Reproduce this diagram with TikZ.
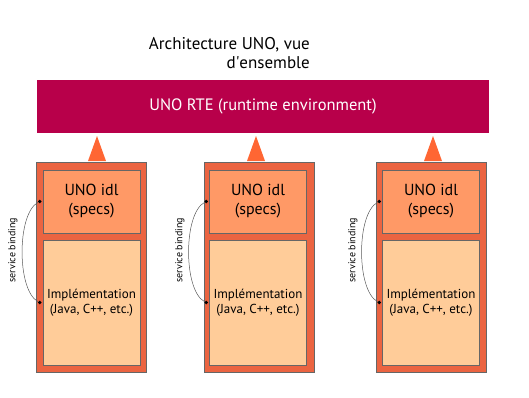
\documentclass[tikz,border=0pt]{standalone}
\usepackage{fontspec}
\setmainfont{PT Sans}
\usetikzlibrary{positioning}

\definecolor{rtered}{HTML}{B8004A}
\definecolor{pileorange}{HTML}{EB6441}
\definecolor{specsorange}{HTML}{FF9966}
\definecolor{implpeach}{HTML}{FFCC99}
\definecolor{flecheorange}{HTML}{FF6633}

\tikzset{
    rte/.style={fill=rtered, text=white, minimum width=452pt, minimum height=53pt,
        inner sep=0pt, font=\fontsize{16.5}{20}\selectfont},
    pile/.style={fill=pileorange, draw=black!60, line width=0.5pt,
        minimum width=110pt, minimum height=210pt, inner sep=0pt},
    specs/.style={fill=specsorange, draw=black!60, line width=0.5pt, align=center,
        minimum width=97pt, minimum height=63pt, inner sep=0pt,
        font=\fontsize{16}{19}\selectfont},
    impl/.style={fill=implpeach, draw=black!60, line width=0.5pt, align=center,
        minimum width=97pt, minimum height=125pt, inner sep=0pt,
        font=\fontsize{13}{15.5}\selectfont},
    point/.style={circle, fill=black, inner sep=0pt, minimum size=3.6pt},
    liaison/.style={draw=black!65, line width=0.5pt},
    lien/.style={rotate=90, font=\fontsize{10}{11}\selectfont}
}

\begin{document}
\begin{tikzpicture}[x=1pt,y=-1pt]
            \useasboundingbox (0,0) rectangle (529,397);

            % Titre
            \node[align=right, anchor=north east, inner sep=0pt, font=\fontsize{17}{19.5}\selectfont]
                (titre) at (310,37) {Architecture UNO, vue\\d\textquotesingle ensemble};

            % RTE
            \node[rte] (rte) at (263,106.5) {UNO RTE (runtime environment)};

            % Fleches vers le RTE
            \fill[flecheorange] (97,136) -- (106,161) -- (88,161) -- cycle;
            \fill[flecheorange] (256,136) -- (265,161) -- (247,161) -- cycle;
            \fill[flecheorange] (433,136) -- (442,161) -- (424,161) -- cycle;

            % Pile A
            \node[pile] (pileA) at (91,267) {};
            \node[specs] (specsA) at (91.5,201.5) {UNO idl\\(specs)};
            \node[impl] (implA) at (91.5,302.5) {Implémentation\\(Java, C++, etc.)};
            \node[point] (hautA) at ([xshift=-3pt]specsA.west) {};
            \node[point] (basA) at ([xshift=-3pt]implA.west) {};
            \draw[liaison] (hautA) .. controls +(-23,12) and +(-23,-12) .. (basA);
            \node[lien] (lienA) at (13,250) {service binding};

            % Pile B
            \node[pile] (pileB) at (259,267) {};
            \node[specs] (specsB) at (258,201.5) {UNO idl\\(specs)};
            \node[impl] (implB) at (258,302.5) {Implémentation\\(Java, C++, etc.)};
            \node[point] (hautB) at ([xshift=-3pt]specsB.west) {};
            \node[point] (basB) at ([xshift=-3pt]implB.west) {};
            \draw[liaison] (hautB) .. controls +(-23,12) and +(-23,-12) .. (basB);
            \node[lien] (lienB) at (180,250) {service binding};

            % Pile C
            \node[pile] (pileC) at (431,267) {};
            \node[specs] (specsC) at (431,201.5) {UNO idl\\(specs)};
            \node[impl] (implC) at (431,302.5) {Implémentation\\(Java, C++, etc.)};
            \node[point] (hautC) at ([xshift=-3pt]specsC.west) {};
            \node[point] (basC) at ([xshift=-3pt]implC.west) {};
            \draw[liaison] (hautC) .. controls +(-23,12) and +(-23,-12) .. (basC);
            \node[lien] (lienC) at (353,250) {service binding};

\end{tikzpicture}
\end{document}
